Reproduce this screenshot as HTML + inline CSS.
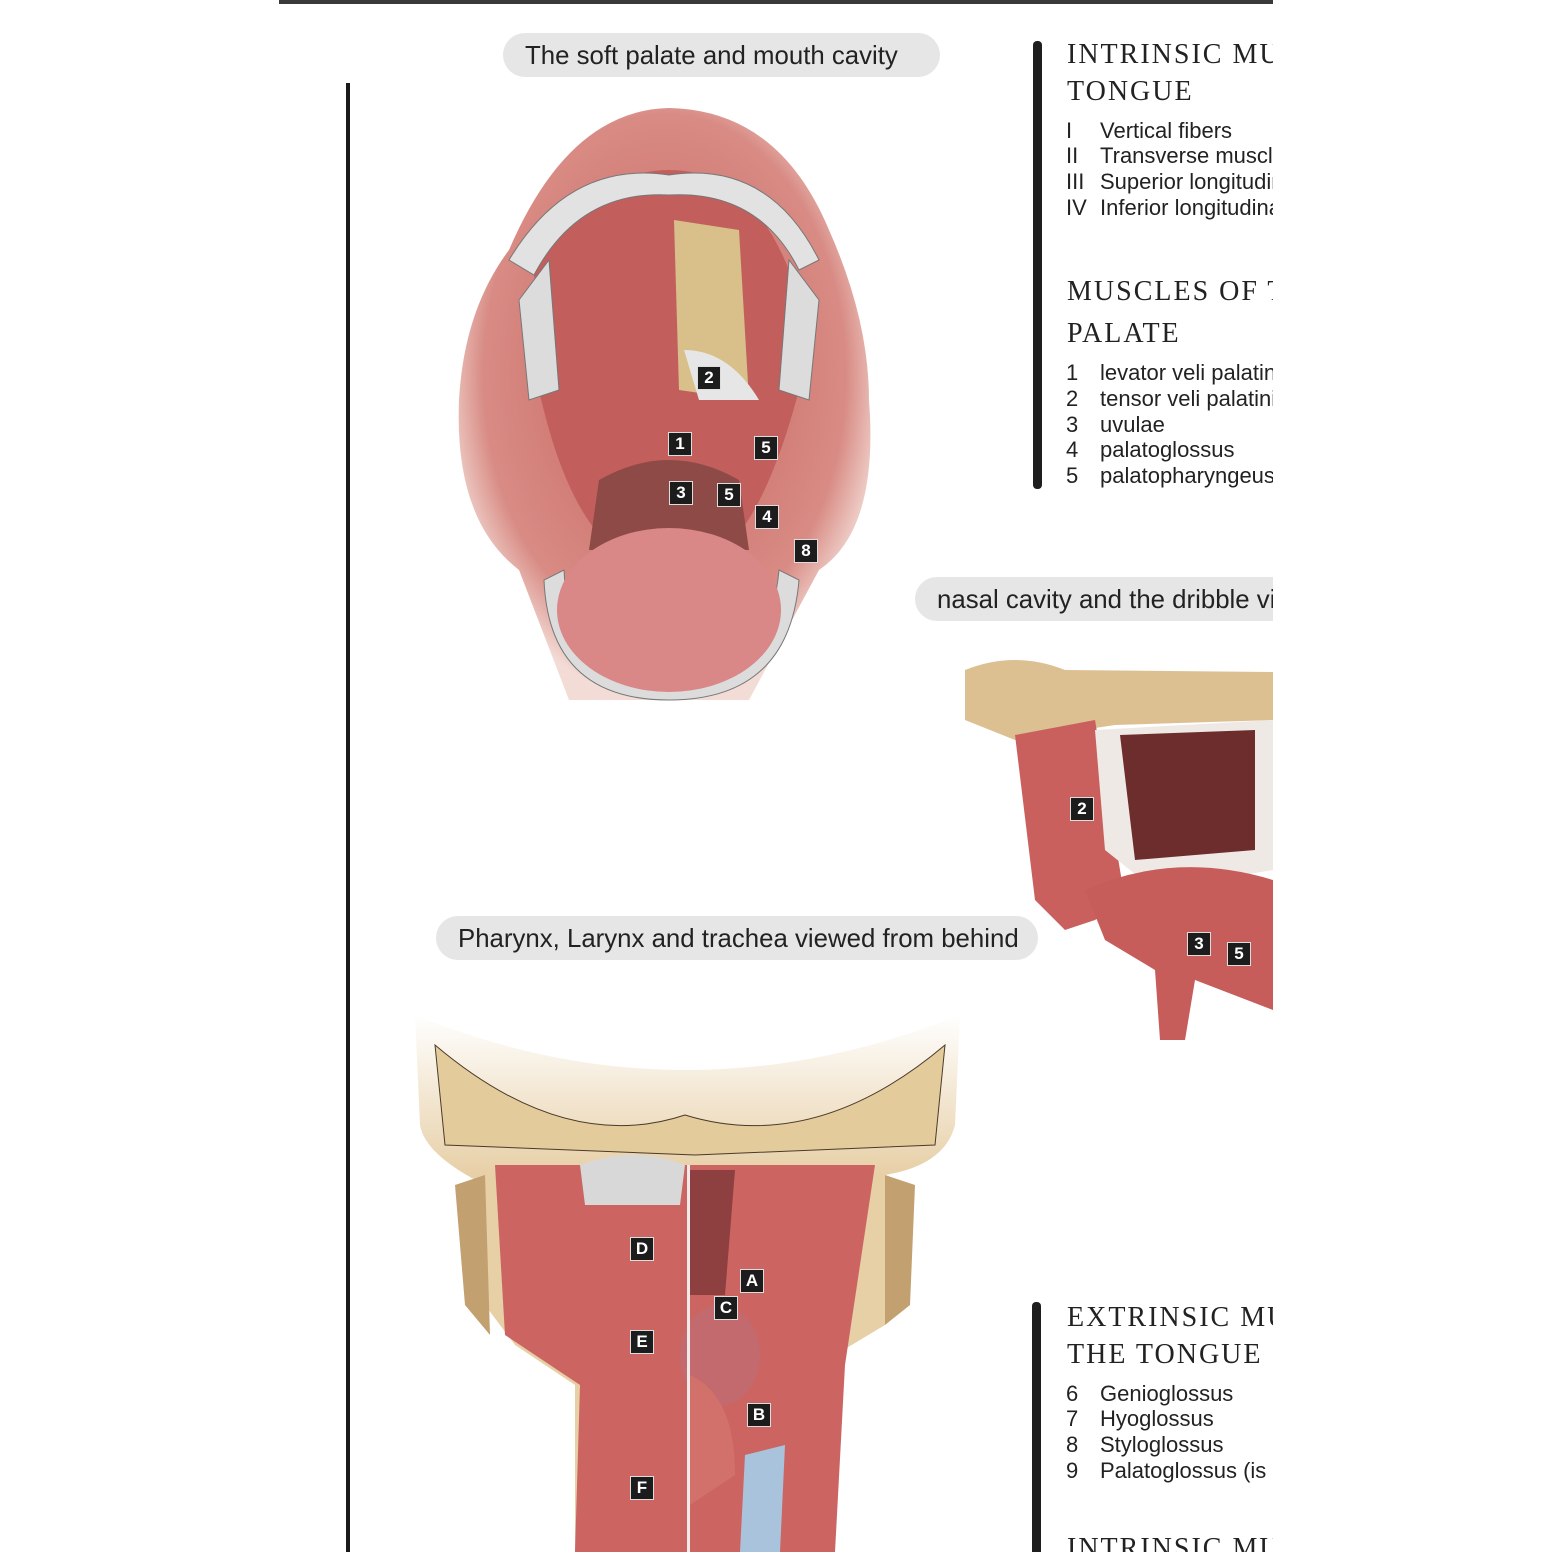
<!DOCTYPE html>
<html><head><meta charset="utf-8"><style>
html,body{margin:0;padding:0;background:#fff;width:1552px;height:1552px;overflow:hidden}
#wrap{position:absolute;left:279px;top:0;width:994px;height:1552px;overflow:hidden}
.abs{position:absolute}
.pill{position:absolute;background:#e6e6e6;border-radius:22px;font-family:"Liberation Sans",sans-serif;font-size:25.8px;color:#222;height:44px;line-height:46px;white-space:nowrap;padding-left:22px;overflow:hidden}
.bar{position:absolute;width:9px;background:#1e1e1e;border-radius:4px}
.h{position:absolute;font-family:"Liberation Serif",serif;font-size:28px;letter-spacing:2px;color:#222;line-height:37px;white-space:nowrap}
.li{position:absolute;font-family:"Liberation Sans",sans-serif;font-size:22px;color:#222;white-space:nowrap;line-height:26px}
.li span{display:inline-block;width:34px}
.lb{position:absolute;width:22px;height:22px;background:#1c1c1c;color:#fff;font:bold 17px "Liberation Sans",sans-serif;text-align:center;line-height:22px;border:1px solid #ddd}
</style></head><body>
<div id="wrap">
<div class="abs" style="left:0;top:0;width:994px;height:4px;background:#3a3a3a"></div>
<div class="abs" style="left:67px;top:83px;width:4px;height:1469px;background:#1a1a1a"></div>

<div class="pill" style="left:224px;top:33px;width:415px">The soft palate and mouth cavity</div>
<div class="pill" style="left:636px;top:577px;width:400px">nasal cavity and the dribble view</div>
<div class="pill" style="left:157px;top:916px;width:580px">Pharynx, Larynx and trachea viewed from behind</div>

<!-- mouth illustration -->
<svg class="abs" style="left:170px;top:100px" width="440" height="610" viewBox="0 0 440 610">
<defs><radialGradient id="g1" cx="50%" cy="45%" r="55%"><stop offset="0" stop-color="#c8645f"/><stop offset="0.8" stop-color="#d88b84"/><stop offset="1" stop-color="#f3dcd6"/></radialGradient></defs>
<path d="M60 150 Q120 10 220 8 Q330 10 380 130 Q420 220 420 300 Q430 430 370 470 L300 600 L120 600 L70 470 Q5 420 10 300 Q15 210 60 150Z" fill="url(#g1)"/>
<path d="M85 170 Q140 70 220 70 Q300 70 340 170 L350 290 Q300 480 220 470 Q130 470 90 290Z" fill="#c25f5d"/>
<path d="M225 120 L290 130 L300 300 L230 290Z" fill="#d9bf8a"/>
<path d="M150 380 Q220 340 290 380 L300 450 L140 450Z" fill="#8e4a47"/>
<path d="M95 480 Q100 600 220 600 Q340 600 350 480 L330 470 Q320 580 220 585 Q120 580 115 470Z" fill="#dcdcdc" stroke="#777"/>
<ellipse cx="220" cy="510" rx="112" ry="82" fill="#d98787"/>
<path d="M60 160 Q120 60 220 75 Q320 60 370 160 L350 170 Q310 90 220 95 Q130 90 85 175Z" fill="#e2e2e2" stroke="#777"/>
<path d="M70 200 L100 160 L110 290 L80 300Z" fill="#dcdcdc" stroke="#777"/>
<path d="M340 160 L370 200 L360 300 L330 290Z" fill="#dcdcdc" stroke="#777"/>
<path d="M235 250 Q280 250 310 300 L250 300Z" fill="#e6e6e6"/>
</svg>
<div class="lb" style="left:418px;top:366px">2</div>
<div class="lb" style="left:389px;top:432px">1</div>
<div class="lb" style="left:475px;top:436px">5</div>
<div class="lb" style="left:390px;top:481px">3</div>
<div class="lb" style="left:438px;top:483px">5</div>
<div class="lb" style="left:476px;top:505px">4</div>
<div class="lb" style="left:515px;top:539px">8</div>

<!-- nasal illustration -->
<svg class="abs" style="left:676px;top:650px" width="318" height="395" viewBox="0 0 318 395">
<path d="M10 20 Q60 0 110 20 L318 22 L318 70 L160 75 L60 90 L10 70Z" fill="#dcc092"/>
<path d="M60 85 L140 70 L170 250 L140 270 L110 280 L80 250Z" fill="#c9605d"/>
<path d="M140 80 L318 70 L318 220 L200 240 L150 200Z" fill="#efe9e6"/>
<path d="M165 85 L300 80 L300 200 L180 210Z" fill="#6e2d2d"/>
<path d="M130 240 Q220 200 318 230 L318 360 L240 330 L230 390 L205 390 L200 320 L150 290Z" fill="#c65d5a"/>
</svg>
<div class="lb" style="left:791px;top:797px">2</div>
<div class="lb" style="left:908px;top:932px">3</div>
<div class="lb" style="left:948px;top:942px">5</div>

<!-- pharynx illustration -->
<svg class="abs" style="left:136px;top:1005px" width="550" height="547" viewBox="0 0 550 547">
<defs><linearGradient id="g2" x1="0" y1="0" x2="0" y2="1"><stop offset="0" stop-color="#fff"/><stop offset="0.3" stop-color="#e7cfa6"/></linearGradient></defs>
<path d="M0 10 Q270 120 545 10 L540 120 Q530 160 470 170 L470 320 L420 350 L420 547 L160 547 L160 380 L100 340 L70 300 L70 180 Q10 150 5 120Z" fill="url(#g2)"/>
<path d="M20 40 Q150 150 270 110 Q400 150 530 40 L520 140 L280 150 L30 140Z" fill="#e4cb9c" stroke="#4a3a2a"/>
<path d="M80 160 L460 160 L430 360 L420 547 L160 547 L165 380 L90 330Z" fill="#cc6562"/>
<path d="M165 160 Q220 140 270 160 L265 200 L170 200Z" fill="#d8d8d8"/>
<path d="M275 165 L320 165 L310 290 L275 290Z" fill="#8e3f40"/>
<ellipse cx="305" cy="350" rx="40" ry="50" fill="#c26a6e"/>
<path d="M275 370 Q320 390 320 470 L275 500Z" fill="#d2706b"/>
<path d="M330 450 L370 440 L365 547 L325 547Z" fill="#a9c3dc"/>
<rect x="272" y="160" width="3" height="387" fill="#f0eaea"/>
<path d="M40 180 L70 170 L75 330 L50 300Z" fill="#c2a070"/>
<path d="M470 170 L500 180 L495 300 L470 320Z" fill="#c2a070"/>
</svg>
<div class="lb" style="left:351px;top:1237px">D</div>
<div class="lb" style="left:461px;top:1269px">A</div>
<div class="lb" style="left:435px;top:1296px">C</div>
<div class="lb" style="left:351px;top:1330px">E</div>
<div class="lb" style="left:468px;top:1403px">B</div>
<div class="lb" style="left:351px;top:1476px">F</div>

<!-- right text panels -->
<div class="bar" style="left:754px;top:41px;height:448px"></div>
<div class="h" style="left:788px;top:36px">INTRINSIC MUSCLES OF THE</div>
<div class="h" style="left:788px;top:73px">TONGUE</div>
<div class="li" style="left:787px;top:118px"><span>I</span>Vertical fibers</div>
<div class="li" style="left:787px;top:143px"><span>II</span>Transverse muscle</div>
<div class="li" style="left:787px;top:169px"><span>III</span>Superior longitudinal</div>
<div class="li" style="left:787px;top:195px"><span>IV</span>Inferior longitudinal</div>
<div class="h" style="left:788px;top:273px">MUSCLES OF THE SOFT</div>
<div class="h" style="left:788px;top:315px">PALATE</div>
<div class="li" style="left:787px;top:360px"><span>1</span>levator veli palatini</div>
<div class="li" style="left:787px;top:386px"><span>2</span>tensor veli palatini</div>
<div class="li" style="left:787px;top:412px"><span>3</span>uvulae</div>
<div class="li" style="left:787px;top:437px"><span>4</span>palatoglossus</div>
<div class="li" style="left:787px;top:463px"><span>5</span>palatopharyngeus</div>

<div class="bar" style="left:753px;top:1302px;height:260px"></div>
<div class="h" style="left:788px;top:1299px">EXTRINSIC MUSCLES OF</div>
<div class="h" style="left:788px;top:1336px">THE TONGUE</div>
<div class="li" style="left:787px;top:1381px"><span>6</span>Genioglossus</div>
<div class="li" style="left:787px;top:1406px"><span>7</span>Hyoglossus</div>
<div class="li" style="left:787px;top:1432px"><span>8</span>Styloglossus</div>
<div class="li" style="left:787px;top:1458px"><span>9</span>Palatoglossus (is a</div>
<div class="h" style="left:788px;top:1530px">INTRINSIC MUSCLES</div>
</div>
</body></html>
